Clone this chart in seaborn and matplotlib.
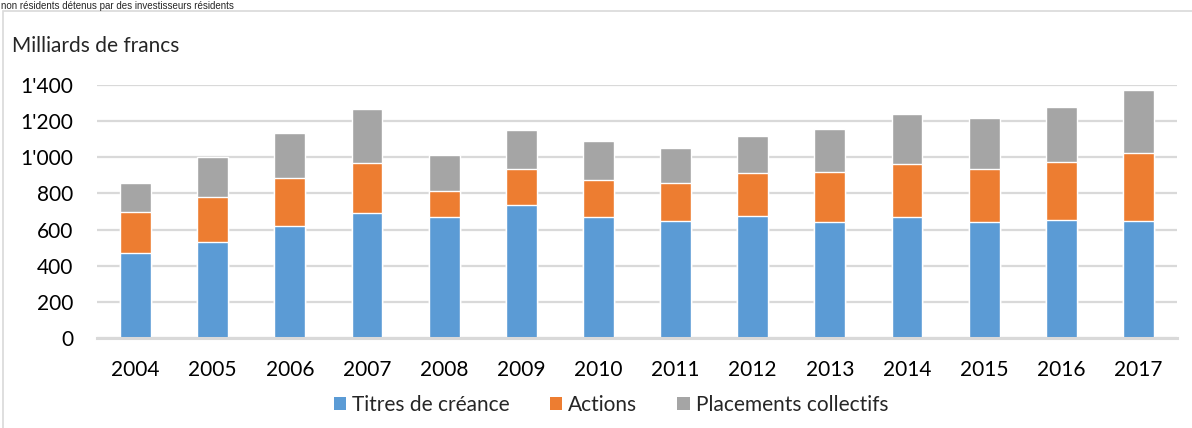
import pandas as pd
import matplotlib.pyplot as plt
import seaborn as sns
from matplotlib.patches import Patch, Rectangle
from matplotlib.ticker import FuncFormatter

# data (Milliards de francs)
years = ['2004', '2005', '2006', '2007', '2008', '2009', '2010',
         '2011', '2012', '2013', '2014', '2015', '2016', '2017']
titres_creance = [471, 530, 621, 692, 671, 738, 671, 649, 675, 644, 669, 644, 653, 649]
actions = [226, 251, 265, 278, 143, 198, 202, 210, 236, 277, 295, 292, 322, 374]
placements = [158, 220, 251, 298, 197, 214, 215, 192, 209, 233, 273, 283, 305, 351]

series_names = ['Titres de créance', 'Actions', 'Placements collectifs']
colors = ['#5B9BD5', '#ED7D31', '#A5A5A5']

df = pd.DataFrame({'annee': years,
                   'Titres de créance': titres_creance,
                   'Actions': actions,
                   'Placements collectifs': placements})
# cumulative tops so the stacks can be drawn back to front
df['top1'] = df['Titres de créance']
df['top2'] = df['top1'] + df['Actions']
df['top3'] = df['top2'] + df['Placements collectifs']

sns.set_theme(style='white')
plt.rcParams['font.family'] = ['Lato', 'DejaVu Sans']

fig = plt.figure(figsize=(11.92, 4.28), dpi=100)
ax = fig.add_axes([97 / 1192, 1 - 338 / 428, 1080 / 1192, 253 / 428])

for col, c in zip(['top3', 'top2', 'top1'], colors[::-1]):
    sns.barplot(data=df, x='annee', y=col, color=c, width=0.4,
                saturation=1, ax=ax, zorder=3)

ax.set_ylim(0, 1400)
ax.set_xlim(-0.5, 13.5)
ax.set_yticks(range(0, 1401, 200))
ax.yaxis.set_major_formatter(FuncFormatter(lambda v, p: f"{int(v):,}".replace(',', "'")))
ax.grid(axis='y', color='#D9D9D9', linewidth=1.6, zorder=0)
ax.set_axisbelow(True)
for s in ['top', 'right', 'left']:
    ax.spines[s].set_visible(False)
ax.spines['bottom'].set_color('#D9D9D9')
ax.spines['bottom'].set_linewidth(2.2)
ax.spines['bottom'].set_zorder(4)
ax.set_xlabel('')
ax.set_ylabel('')
ax.tick_params(axis='both', length=0, labelsize=15, colors='#000000')
ax.tick_params(axis='x', pad=16)
ax.tick_params(axis='y', pad=17)

handles = [Patch(facecolor=c, edgecolor='none') for c in colors]
fig.legend(handles, series_names, loc='center', bbox_to_anchor=(611 / 1192, 1 - 405 / 428),
           ncol=3, frameon=False, fontsize=15, handlelength=0.6, handleheight=0.6,
           handletextpad=0.3, columnspacing=1.9)

fig.text(12 / 1192, 1 - 46 / 428, 'Milliards de francs', fontsize=15, va='center', ha='left')

# chart frame and the heading above it (shrunk to fit the strip)
fig.patches.append(Rectangle((3 / 1192, -0.1), 1.2, 1.1 - 11 / 428, transform=fig.transFigure,
                             fill=False, edgecolor='#D9D9D9', linewidth=1.2))
fig.text(1 / 1192, 1 - 1 / 428, 'non résidents détenus par des investisseurs résidents',
         family='Liberation Sans', fontsize=7, va='top', ha='left')

fig.savefig('out.png', dpi=100)
